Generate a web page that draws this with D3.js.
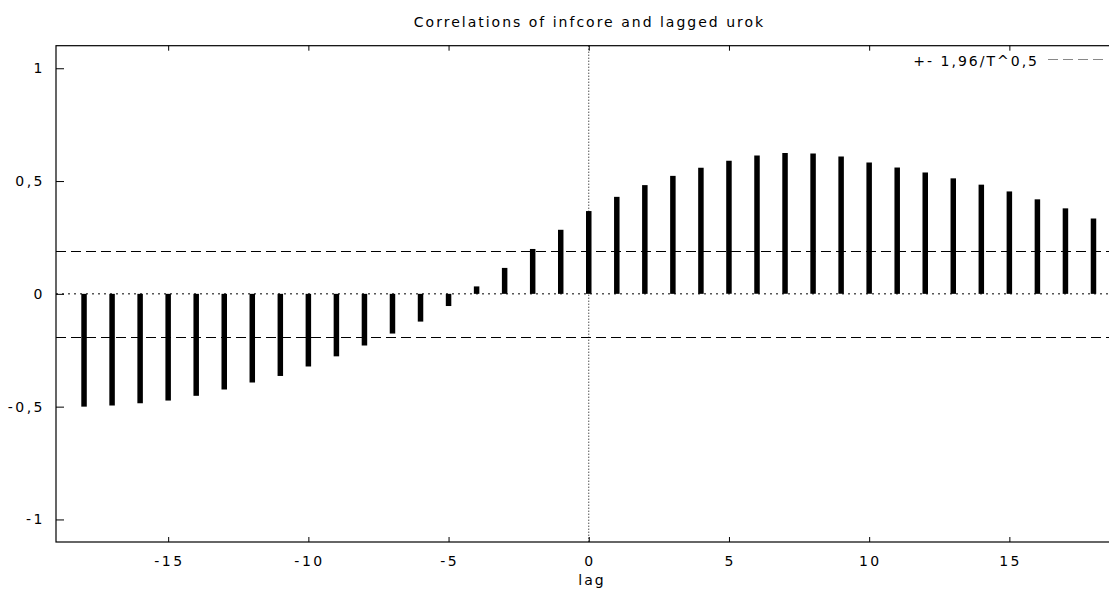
<!DOCTYPE html>
<html>
<head>
<meta charset="utf-8">
<script src="https://cdn.jsdelivr.net/npm/d3@7"></script>
<style>
  html, body { margin: 0; padding: 0; background: #fff; overflow: hidden; }
  svg { display: block; }
  text { font-family: "DejaVu Sans", sans-serif; fill: #000; }
</style>
</head>
<body>
<svg id="chart" width="1109" height="590"></svg>
<script>
// ---- data ----
const lags = [-18,-17,-16,-15,-14,-13,-12,-11,-10,-9,-8,-7,-6,-5,-4,-3,-2,-1,0,1,2,3,4,5,6,7,8,9,10,11,12,13,14,15,16,17,18];
const correlations = [-0.500,-0.495,-0.485,-0.473,-0.452,-0.424,-0.393,-0.364,-0.322,-0.277,
                      -0.229,-0.176,-0.123,-0.054,0.033,0.115,0.199,0.284,0.367,0.430,
                      0.482,0.523,0.559,0.590,0.613,0.624,0.622,0.609,0.582,0.560,
                      0.538,0.512,0.484,0.454,0.419,0.379,0.334];
const xTicks = [-15,-10,-5,0,5,10,15];
const yTicks = [-1,-0.5,0,0.5,1];
const bandValue = 0.191;
const title = "Correlations of infcore and lagged urok";
const xLabel = "lag";
const legendLabel = "+- 1,96/T^0,5";

// ---- layout ----
const svg = d3.select("#chart");
const plotLeft = 56, plotTop = 45.7, plotBottom = 542;
const pxPerLag = 28.04;
const x = d3.scaleLinear().domain([-19, 19]).range([plotLeft, plotLeft + 38 * pxPerLag]);
const y = d3.scaleLinear().domain([-1.1, 1.1]).range([plotBottom, plotTop]);
const fmt = v => String(v).replace(".", ",");

// reference lines
svg.append("line")
  .attr("x1", x(-19)).attr("x2", x(19))
  .attr("y1", y(0)).attr("y2", y(0))
  .attr("stroke", "#000").attr("stroke-width", 1).attr("stroke-dasharray", "2,4");
svg.append("line")
  .attr("x1", x(0)).attr("x2", x(0))
  .attr("y1", y(1.1)).attr("y2", y(-1.1))
  .attr("stroke", "#000").attr("stroke-width", 1).attr("stroke-dasharray", "1,2");
[bandValue, -bandValue].forEach(v => {
  svg.append("line")
    .attr("x1", x(-19)).attr("x2", x(19))
    .attr("y1", Math.round(y(v)) + 0.5).attr("y2", Math.round(y(v)) + 0.5)
    .attr("stroke", "#000").attr("stroke-width", 1).attr("stroke-dasharray", "10,5");
});

// impulses
svg.append("g").selectAll("line")
  .data(lags.map((l, i) => ({ lag: l, v: correlations[i] })))
  .join("line")
  .attr("x1", d => x(d.lag)).attr("x2", d => x(d.lag))
  .attr("y1", y(0)).attr("y2", d => y(d.v))
  .attr("stroke", "#000").attr("stroke-width", 5.5).attr("stroke-linecap", "butt");

// frame
svg.append("rect")
  .attr("x", x(-19)).attr("y", y(1.1))
  .attr("width", x(19) - x(-19)).attr("height", y(-1.1) - y(1.1))
  .attr("fill", "none").attr("stroke", "#000").attr("stroke-width", 1.2);

// y axis (inside ticks)
const yAxis = d3.axisRight(y).tickValues(yTicks).tickSize(8).tickFormat("");
const gy = svg.append("g").attr("transform", `translate(${x(-19)},0)`).call(yAxis);
gy.select(".domain").remove();
gy.selectAll("line").attr("stroke", "#000");
svg.append("g").selectAll("text").data(yTicks).join("text")
  .attr("x", 45).attr("y", d => y(d) + 5)
  .attr("text-anchor", "end").attr("font-size", 14).attr("letter-spacing", 2.5)
  .text(d => fmt(d));

// x axis bottom & top (inside ticks)
const gxb = svg.append("g").attr("transform", `translate(0,${y(-1.1)})`)
  .call(d3.axisTop(x).tickValues(xTicks).tickSize(5).tickFormat(""));
gxb.select(".domain").remove();
const gxt = svg.append("g").attr("transform", `translate(0,${y(1.1)})`)
  .call(d3.axisBottom(x).tickValues(xTicks).tickSize(5).tickFormat(""));
gxt.select(".domain").remove();
svg.selectAll(".tick line").attr("stroke", "#000");
svg.append("g").selectAll("text").data(xTicks).join("text")
  .attr("x", d => x(d) + 1.2).attr("y", 565.5)
  .attr("text-anchor", "middle").attr("font-size", 14).attr("letter-spacing", 2.5)
  .text(d => fmt(d));

// title and axis label
svg.append("text").attr("x", 589.5).attr("y", 26.5)
  .attr("text-anchor", "middle").attr("font-size", 14).attr("letter-spacing", 2)
  .text(title);
svg.append("text").attr("x", 592).attr("y", 585)
  .attr("text-anchor", "middle").attr("font-size", 14).attr("letter-spacing", 2)
  .text(xLabel);

// legend
svg.append("text").attr("x", 1039).attr("y", 65.5)
  .attr("text-anchor", "end").attr("font-size", 14).attr("letter-spacing", 2)
  .text(legendLabel);
svg.append("line")
  .attr("x1", 1048).attr("x2", 1103).attr("y1", 59.5).attr("y2", 59.5)
  .attr("stroke", "#888").attr("stroke-width", 1).attr("stroke-dasharray", "10,5");
</script>
</body>
</html>
